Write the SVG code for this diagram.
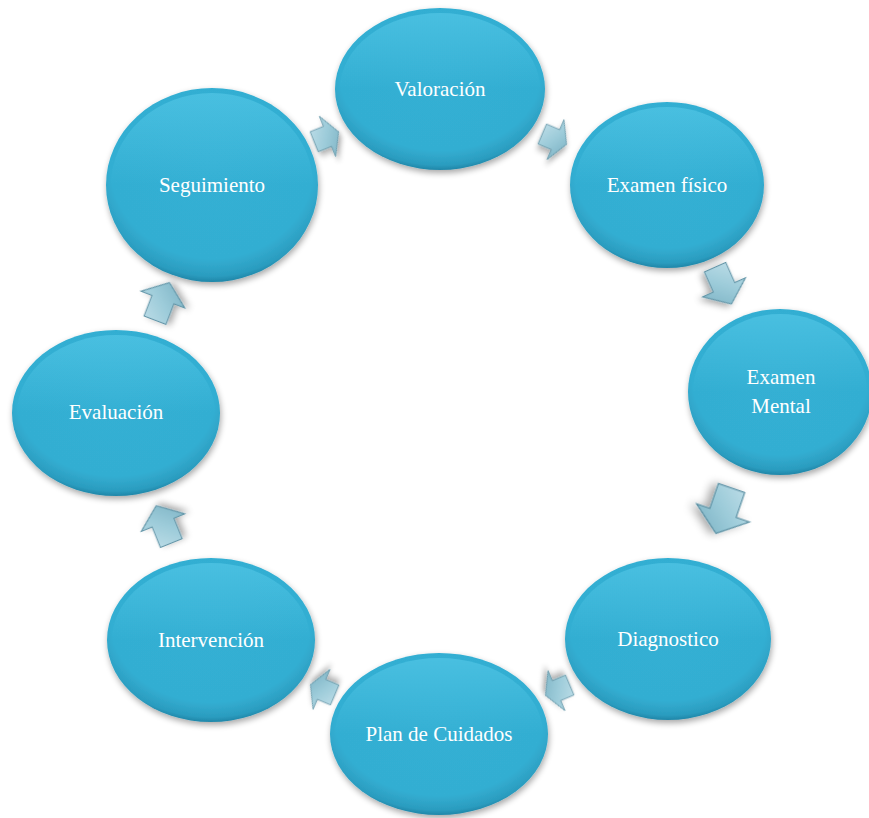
<svg xmlns="http://www.w3.org/2000/svg" width="869" height="818" viewBox="0 0 869 818">
<defs>
<radialGradient id="gEll" cx="0.5" cy="0.4" r="0.6">
<stop offset="0" stop-color="#34b0d4"/>
<stop offset="0.8" stop-color="#33aed2"/>
<stop offset="0.95" stop-color="#2b9cbf"/>
<stop offset="1" stop-color="#1f86a8"/>
</radialGradient>
<linearGradient id="gTop" x1="0" y1="0" x2="0" y2="1">
<stop offset="0" stop-color="#5fd0ee" stop-opacity="0.5"/>
<stop offset="0.5" stop-color="#5fd0ee" stop-opacity="0"/>
</linearGradient>
<linearGradient id="gArr" x1="0" y1="0" x2="1" y2="1">
<stop offset="0" stop-color="#c2e0ea"/>
<stop offset="0.5" stop-color="#9ccbd9"/>
<stop offset="1" stop-color="#78afc1"/>
</linearGradient>
<filter id="sh" x="-20%" y="-20%" width="140%" height="140%">
<feGaussianBlur in="SourceAlpha" stdDeviation="3"/>
<feOffset dx="1" dy="3" result="b"/>
<feComponentTransfer><feFuncA type="linear" slope="0.35"/></feComponentTransfer>
<feMerge><feMergeNode/><feMergeNode in="SourceGraphic"/></feMerge>
</filter>
<path id="arr" d="M-15,-9 L2,-9 L2,-18 L16,0 L2,18 L2,9 L-15,9 Z"/>
</defs>
<style>
.ell{fill:url(#gEll);filter:url(#sh);}
.hl{fill:url(#gTop);}
.t{font-family:"Liberation Serif","DejaVu Serif",serif;font-size:21px;fill:#ffffff;text-anchor:middle;}
.a{fill:url(#gArr);stroke:#5f93a6;stroke-width:0.8;filter:url(#sh);}
</style>
<rect width="869" height="818" fill="#ffffff"/>
<g id="connectors">
<use href="#arr" class="a" transform="translate(326,137) rotate(-22) scale(0.85,1.2)"/>
<use href="#arr" class="a" transform="translate(554,139) rotate(23) scale(0.85,1.2)"/>
<use href="#arr" class="a" transform="translate(723,285) rotate(66) scale(1.3)"/>
<use href="#arr" class="a" transform="translate(724,510) rotate(109) scale(1.55)"/>
<use href="#arr" class="a" transform="translate(558,690) rotate(157) scale(0.85,1.2)"/>
<use href="#arr" class="a" transform="translate(323,690) rotate(203) scale(0.85,1.2)"/>
<use href="#arr" class="a" transform="translate(164,525) rotate(-112) scale(1.3)"/>
<use href="#arr" class="a" transform="translate(162,302) rotate(-69) scale(1.3)"/>
</g>
<g id="valoracion">
<ellipse class="ell" cx="440" cy="89" rx="105" ry="81"/>
<ellipse class="hl" cx="440" cy="89" rx="100" ry="76"/>
<text class="t" x="440" y="96">Valoración</text>
</g>
<g id="examen-fisico">
<ellipse class="ell" cx="667" cy="185" rx="97" ry="83"/>
<ellipse class="hl" cx="667" cy="185" rx="92" ry="78"/>
<text class="t" x="667" y="192">Examen físico</text>
</g>
<g id="examen-mental">
<ellipse class="ell" cx="780" cy="392" rx="92" ry="83"/>
<ellipse class="hl" cx="780" cy="392" rx="87" ry="78"/>
<text class="t" x="781" y="384">Examen</text>
<text class="t" x="781" y="413">Mental</text>
</g>
<g id="diagnostico">
<ellipse class="ell" cx="668" cy="639" rx="103" ry="81"/>
<ellipse class="hl" cx="668" cy="639" rx="98" ry="76"/>
<text class="t" x="668" y="646">Diagnostico</text>
</g>
<g id="plan-de-cuidados">
<ellipse class="ell" cx="439" cy="734" rx="109" ry="81"/>
<ellipse class="hl" cx="439" cy="734" rx="104" ry="76"/>
<text class="t" x="439" y="741">Plan de Cuidados</text>
</g>
<g id="intervencion">
<ellipse class="ell" cx="211" cy="640" rx="104" ry="82"/>
<ellipse class="hl" cx="211" cy="640" rx="99" ry="77"/>
<text class="t" x="211" y="647">Intervención</text>
</g>
<g id="evaluacion">
<ellipse class="ell" cx="116" cy="413" rx="104" ry="83"/>
<ellipse class="hl" cx="116" cy="413" rx="99" ry="78"/>
<text class="t" x="116" y="419">Evaluación</text>
</g>
<g id="seguimiento">
<ellipse class="ell" cx="212" cy="185" rx="106" ry="97"/>
<ellipse class="hl" cx="212" cy="185" rx="101" ry="92"/>
<text class="t" x="212" y="192">Seguimiento</text>
</g>
</svg>
